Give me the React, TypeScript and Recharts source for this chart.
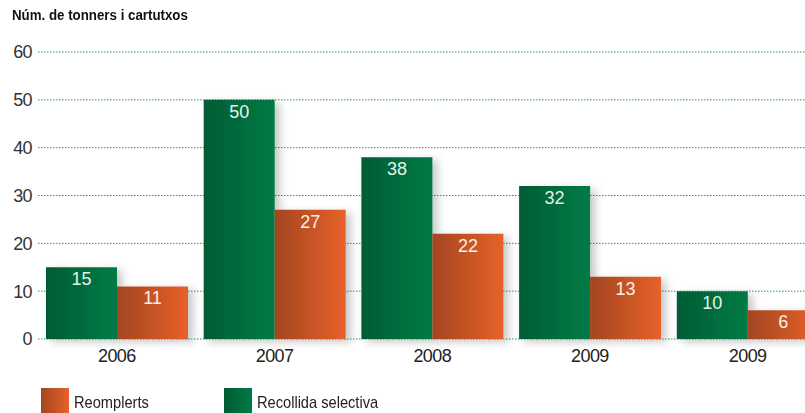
import React from "react";
import { BarChart, Bar, XAxis, YAxis, CartesianGrid, LabelList } from "recharts";

const years = ["2006", "2007", "2008", "2009", "2009"];
const recollida = [15, 50, 38, 32, 10];
const reomplerts = [11, 27, 22, 13, 6];
const yTicks = [0, 10, 20, 30, 40, 50, 60];

const chartData = years.map((year, i) => ({
  year,
  recollida: recollida[i],
  reomplerts: reomplerts[i],
}));

const FONT = '"Liberation Sans Narrow", "Arial Narrow", "Liberation Sans", sans-serif';

const legendItems = [
  { name: "Reomplerts", grad: "linear-gradient(to right, #a2461f, #e8612a)", left: 41, textLeft: 74 },
  { name: "Recollida selectiva", grad: "linear-gradient(to right, #005c34, #007b46)", left: 224, textLeft: 257 },
];

const App: React.FC = () => {
  return (
    <div
      style={{
        position: "absolute",
        left: 0,
        top: 0,
        width: 805,
        height: 413,
        overflow: "hidden",
        background: "#fff",
        fontFamily: FONT,
      }}
    >
      <div
        style={{
          position: "absolute",
          left: 12,
          top: 7,
          fontSize: 14,
          fontWeight: "bold",
          color: "#111",
          transform: "scaleX(0.95)",
          transformOrigin: "left center",
          whiteSpace: "nowrap",
        }}
      >
        Núm. de tonners i cartutxos
      </div>

      <BarChart
        width={830}
        height={413}
        data={chartData}
        margin={{ top: 52, right: 3.5, left: 0, bottom: 44 }}
        barCategoryGap={8}
        barGap={0}
      >
        <defs>
          <linearGradient id="gradGreen" x1="0" y1="0" x2="1" y2="0">
            <stop offset="0%" stopColor="#005c34" />
            <stop offset="100%" stopColor="#007b46" />
          </linearGradient>
          <linearGradient id="gradOrange" x1="0" y1="0" x2="1" y2="0">
            <stop offset="0%" stopColor="#a2461f" />
            <stop offset="100%" stopColor="#e8612a" />
          </linearGradient>
          <filter id="barShadow" x="-20%" y="-20%" width="150%" height="150%">
            <feDropShadow dx="5" dy="3" stdDeviation="4" floodColor="#000" floodOpacity="0.22" />
          </filter>
        </defs>
        <CartesianGrid vertical={false} stroke="#2f9460" strokeDasharray="1.5 1.5" />
        <XAxis
          dataKey="year"
          axisLine={false}
          tickLine={false}
          tickSize={0}
          tickMargin={10}
          height={30}
          tick={{ fill: "#222", fontSize: 18, fontFamily: FONT, letterSpacing: -0.6 }}
        />
        <YAxis
          width={38}
          domain={[0, 60]}
          ticks={yTicks}
          axisLine={false}
          tickLine={false}
          tickSize={0}
          tickMargin={6}
          tick={{ fill: "#333", fontSize: 18, fontFamily: FONT, letterSpacing: -0.6 }}
        />
        <Bar
          dataKey="recollida"
          fill="url(#gradGreen)"
          filter="url(#barShadow)"
          isAnimationActive={false}
        >
          <LabelList
            dataKey="recollida"
            position="insideTop"
            offset={5}
            fill="#e6f2e8"
            fontSize={18}
            fontFamily={FONT}
          />
        </Bar>
        <Bar
          dataKey="reomplerts"
          fill="url(#gradOrange)"
          filter="url(#barShadow)"
          isAnimationActive={false}
        >
          <LabelList
            dataKey="reomplerts"
            position="insideTop"
            offset={5}
            fill="#fbeee6"
            fontSize={18}
            fontFamily={FONT}
          />
        </Bar>
      </BarChart>

      {legendItems.map((item) => (
        <React.Fragment key={item.name}>
          <div
            style={{
              position: "absolute",
              left: item.left,
              top: 388,
              width: 28,
              height: 28,
              background: item.grad,
            }}
          />
          <div
            style={{
              position: "absolute",
              left: item.textLeft,
              top: 393,
              fontSize: 17,
              color: "#222",
              lineHeight: "20px",
              whiteSpace: "nowrap",
              transform: "scaleX(0.86)",
              transformOrigin: "left center",
            }}
          >
            {item.name}
          </div>
        </React.Fragment>
      ))}
    </div>
  );
};

export default App;
